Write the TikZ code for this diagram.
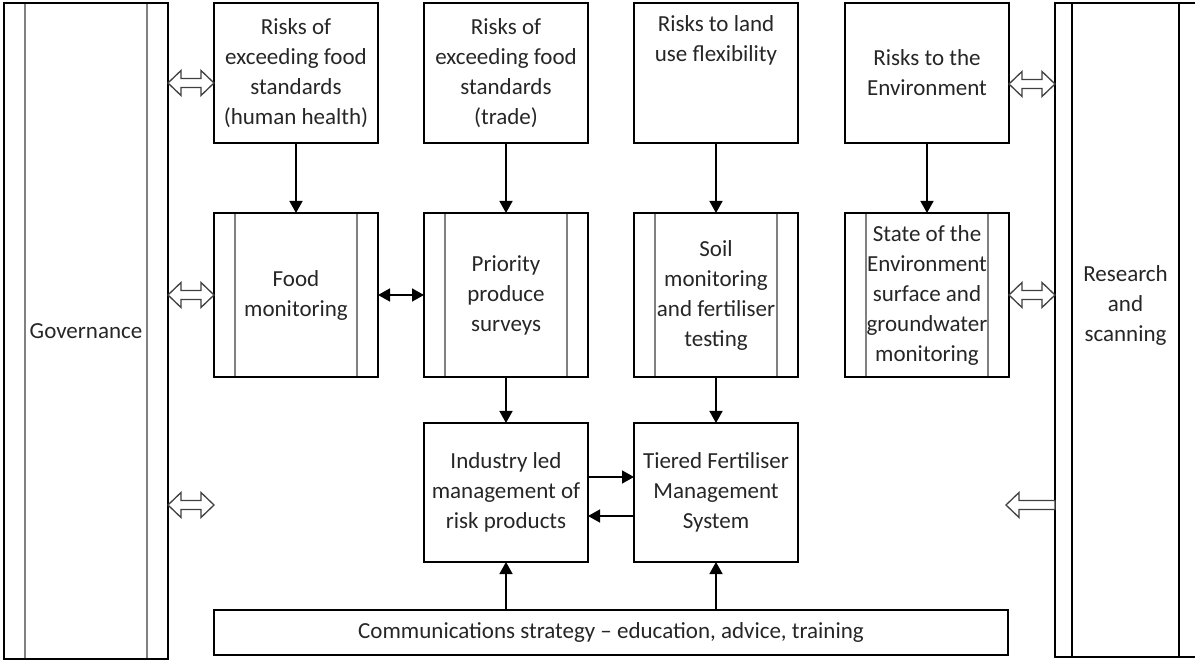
\documentclass[tikz,border=0pt]{standalone}
\usepackage{fontspec}
\setmainfont{Carlito}
\usepackage{tikz}
\usetikzlibrary{arrows.meta,positioning,calc}
\tikzset{bars/.style 2 args={path picture={
  \draw[#2,line width=1.8pt]
    ([xshift=#1]path picture bounding box.north west) -- ([xshift=#1]path picture bounding box.south west)
    ([xshift=-#1]path picture bounding box.north east) -- ([xshift=-#1]path picture bounding box.south east);}}}
\tikzstyle{riskbox}=[draw,line width=1.5pt,minimum width=164pt,minimum height=140pt,inner sep=1pt,outer sep=0pt,
  align=center,font=\fontsize{23pt}{30pt}\selectfont,text=black!85]
\tikzstyle{monbox}=[riskbox,minimum height=164pt,bars={21pt}{black!50}]
\tikzstyle{flow}=[line width=1.5pt,-{Triangle[length=12pt,width=13pt]}]
\tikzstyle{both}=[line width=1.5pt,{Triangle[length=12pt,width=13pt]}-{Triangle[length=12pt,width=13pt]}]
% outlined block arrows, drawn left to right
\tikzstyle{link}=[draw=black!75,line width=1.3pt,fill=white,line join=miter,
  to path={let \p1=(\tikztostart),\p2=(\tikztotarget) in
    -- (\x1+13pt,\y1+12.5pt) -- (\x1+13pt,\y1+4.5pt) -- (\x2-13pt,\y1+4.5pt) -- (\x2-13pt,\y1+12.5pt)
    -- (\x2,\y1) -- (\x2-13pt,\y1-12.5pt) -- (\x2-13pt,\y1-4.5pt) -- (\x1+13pt,\y1-4.5pt)
    -- (\x1+13pt,\y1-12.5pt) -- cycle}]
\tikzstyle{feed}=[draw=black!75,line width=1.3pt,fill=white,line join=miter,
  to path={let \p1=(\tikztostart),\p2=(\tikztotarget) in
    -- (\x1+13pt,\y1+12.5pt) -- (\x1+13pt,\y1+4.5pt) -- (\x2,\y1+4.5pt)
    -- (\x2,\y1-4.5pt) -- (\x1+13pt,\y1-4.5pt) -- (\x1+13pt,\y1-12.5pt) -- cycle}]

\begin{document}
\begin{tikzpicture}[x=1pt,y=-1pt]
    \useasboundingbox (0,0) rectangle (1195,660);
    \node [riskbox,minimum height=656pt,bars={21pt}{black!50}] (gov) at (86,331) {Governance};
    \node [riskbox,minimum width=141pt,minimum height=654pt,bars={17pt}{black}] (res) at (1125.5,330)
      {Research\\and\\scanning\\[22pt]\mbox{}};

    \node [riskbox] (rh) at (296,73) {Risks of\\exceeding food\\standards\\(human health)};
    \node [riskbox,right=46pt of rh] (rt) {Risks of\\exceeding food\\standards\\(trade)};
    \node [riskbox,right=46pt of rt] (rl) {Risks to land\\use flexibility\\\strut\\\strut};
    \node [riskbox,right=47pt of rl] (re) {Risks to the\\Environment};

    \node [monbox,below=70pt of rh] (food) {Food\\monitoring};
    \node [monbox,below=70pt of rt] (survey) {Priority\\produce\\surveys};
    \node [monbox,below=70pt of rl] (soil) {Soil\\monitoring\\and fertiliser\\testing};
    \node [monbox,below=70pt of re] (soe) {State of the\\Environment\\surface and\\groundwater\\monitoring};

    \node [riskbox,minimum height=139pt,below=46pt of survey] (industry) {Industry led\\management of\\risk products};
    \node [riskbox,minimum height=139pt,below=46pt of soil] (tiered) {Tiered Fertiliser\\Management\\System};
    \node [riskbox,minimum width=794pt,minimum height=45pt] (comms) at (611,632.5)
      {Communications strategy -- education, advice, training};

    \coordinate (rhl) at ([yshift=-10pt]rh.west);
    \coordinate (rel) at ([yshift=-11pt]re.east);
    \coordinate (lfree) at (214,505);
    \coordinate (rfree) at (1006,505);

    \draw [flow] (rh) -- (food);
    \draw [flow] (rt) -- (survey);
    \draw [flow] (rl) -- (soil);
    \draw [flow] (re) -- (soe);
    \draw [both] (food) -- (survey);
    \draw [flow] (survey) -- (industry);
    \draw [flow] (soil) -- (tiered);
    \draw [flow] ([yshift=15.5pt]industry.east) -- ([yshift=15.5pt]tiered.west);
    \draw [flow] ([yshift=-23.5pt]tiered.west) -- ([yshift=-23.5pt]industry.east);
    \draw [flow] (comms.north -| industry) -- (industry);
    \draw [flow] (comms.north -| tiered) -- (tiered);

    \draw [link] (gov.east |- rhl) to (rhl);
    \draw [link] (gov.east |- food) to (food.west);
    \draw [link] (gov.east |- lfree) to (lfree);
    \draw [link] (rel) to (res.west |- rel);
    \draw [link] (soe.east) to (res.west |- soe);
    \draw [feed] (rfree) to (res.west |- rfree);
\end{tikzpicture}
\end{document}
